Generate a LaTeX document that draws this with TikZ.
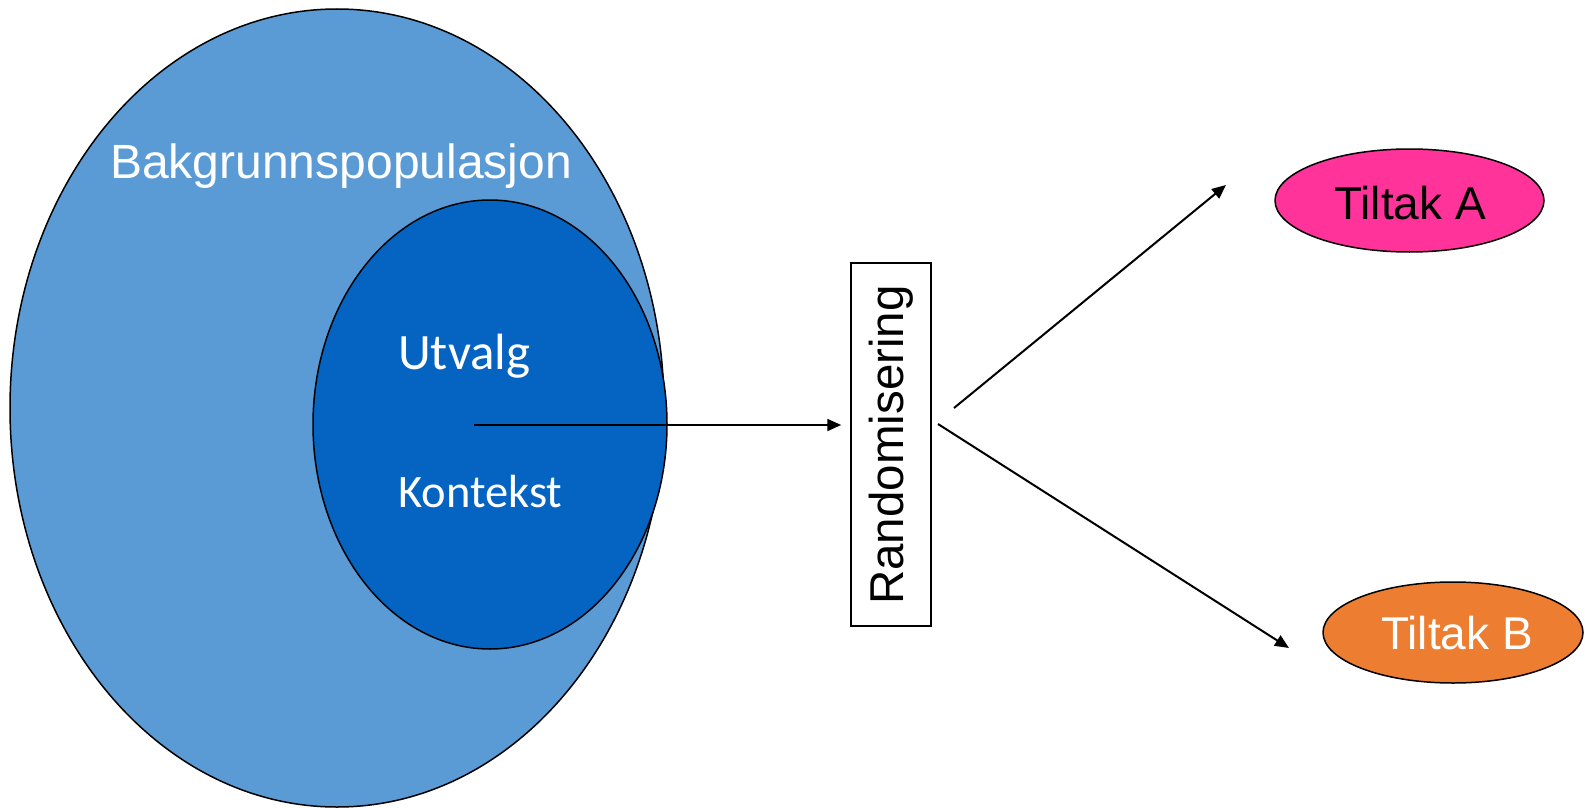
\documentclass[tikz,border=0pt]{standalone}
\usepackage{fontspec}
\setmainfont{Liberation Sans}
\newfontfamily\calfont{Carlito}
\usetikzlibrary{shapes.geometric,arrows.meta}
\definecolor{popblue}{HTML}{5B9BD5}
\definecolor{selblue}{HTML}{0563C1}
\definecolor{tapink}{HTML}{FF3399}
\definecolor{tborange}{HTML}{ED7D31}
\tikzset{
  blob/.style={ellipse, draw=black, line width=1.5pt, inner sep=0pt},
  conn/.style={line width=2pt, -{Triangle[length=14pt,width=12pt]}},
  lbl/.style={inner sep=0pt, anchor=base west}
}
\begin{document}
\begin{tikzpicture}[x=1pt,y=-1pt]
\useasboundingbox (0,0) rectangle (1585,808);
\node[blob, fill=popblue, minimum width=654pt, minimum height=798pt] (pop) at (337,408) {};
\node[blob, fill=selblue, minimum width=354pt, minimum height=449pt] (sel) at (490,424.5) {};
\node[lbl, text=white, font=\fontsize{48}{52}\selectfont] (popl) at (110,178) {Bakgrunnspopulasjon};
\node[lbl, text=white, font=\calfont\fontsize{51}{56}\selectfont] (utv) at (398,369) {Utvalg};
\node[lbl, text=white, font=\calfont\fontsize{46.5}{50}\selectfont] (kon) at (398,507) {Kontekst};
\node[draw=black, line width=1.5pt, minimum width=80pt, minimum height=363pt, inner sep=0pt] (rand) at (891,444.5) {};
\node[rotate=90, font=\fontsize{47.5}{50}\selectfont, inner sep=0pt] (randl) at (891,445) {Randomisering};
\node[blob, fill=tapink, minimum width=269pt, minimum height=103pt] (ta) at (1409.5,200.5) {};
\node[font=\fontsize{46}{50}\selectfont, inner sep=0pt, anchor=base] (tal) at (1410,219) {Tiltak A};
\node[blob, fill=tborange, minimum width=260pt, minimum height=101pt] (tb) at (1453,632.5) {};
\node[font=\fontsize{46}{50}\selectfont, text=white, inner sep=0pt, anchor=base] (tbl) at (1457,649) {Tiltak B};
\coordinate (s0) at (474,425);
\coordinate (s1) at (954,408);
\coordinate (e1) at (1226,185);
\coordinate (s2) at (938,424);
\coordinate (e2) at (1289,648);
\draw[conn] (s0) -- (rand.west |- s0) [shorten >=9pt];
\draw[conn] (s1) -- (e1);
\draw[conn] (s2) -- (e2);
\end{tikzpicture}
\end{document}
